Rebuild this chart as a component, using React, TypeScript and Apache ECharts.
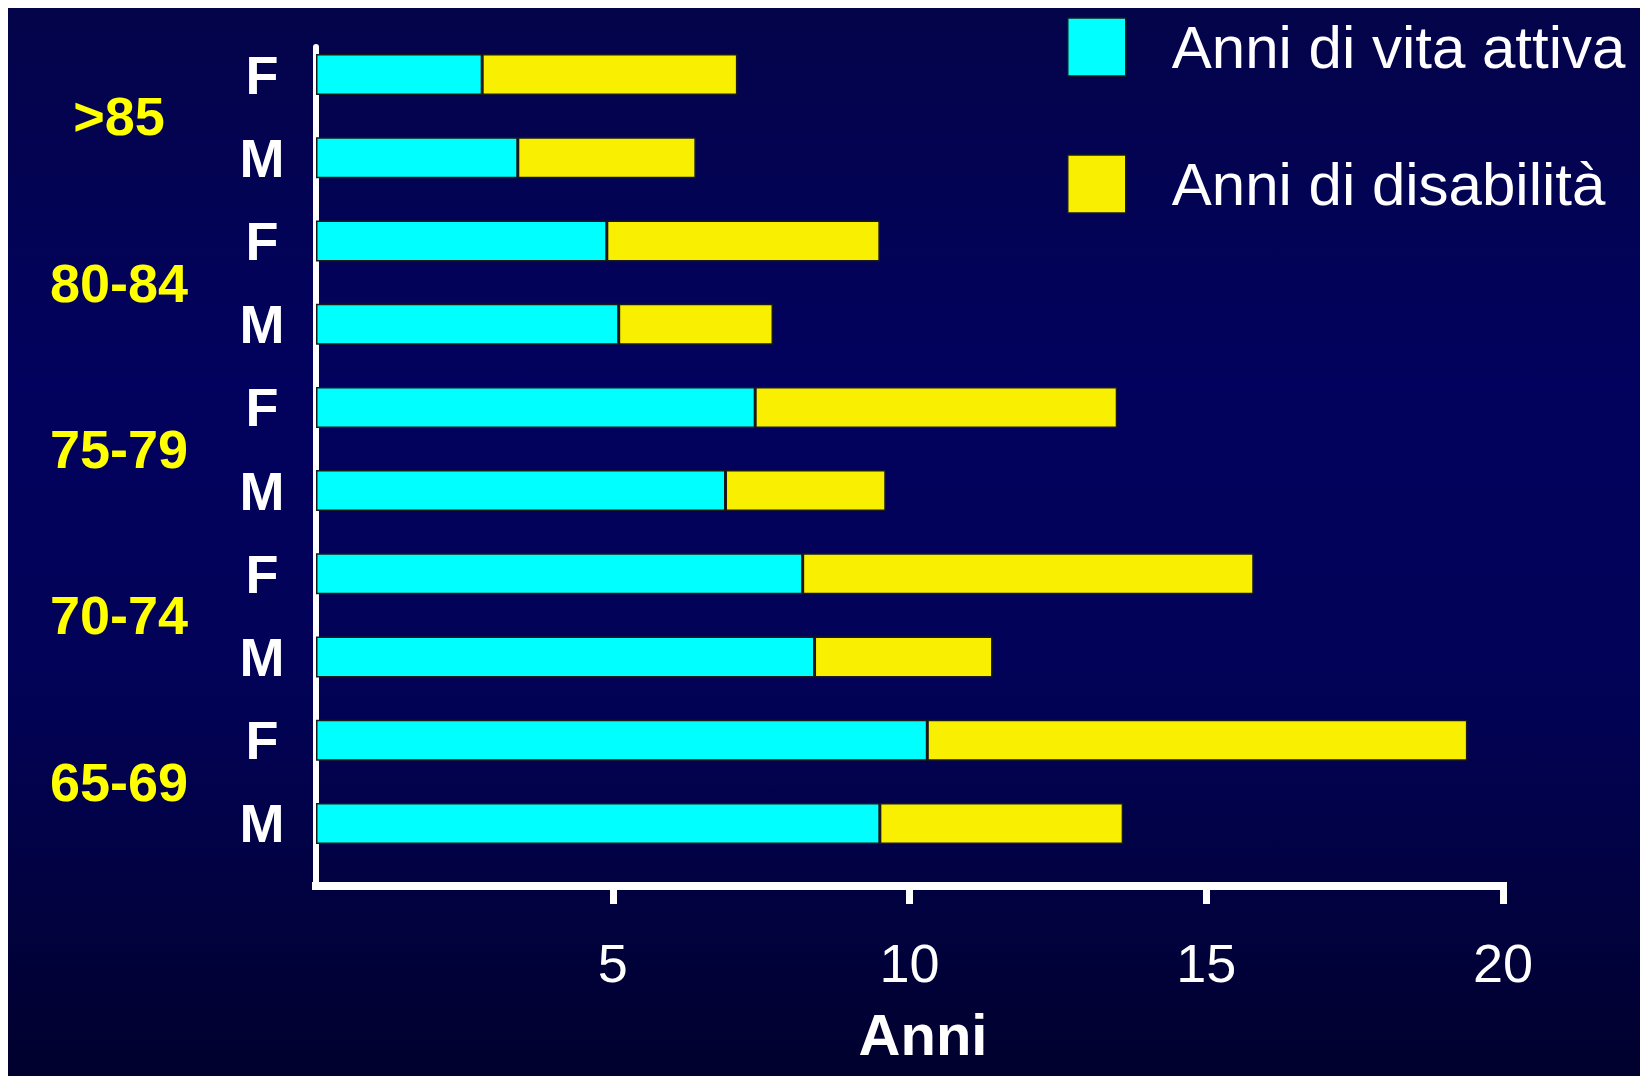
import React, { useEffect, useRef } from "react";
import * as echarts from "echarts";

// Rows top-to-bottom: age group + sex
const rowKeys = [
  ">85 F", ">85 M",
  "80-84 F", "80-84 M",
  "75-79 F", "75-79 M",
  "70-74 F", "70-74 M",
  "65-69 F", "65-69 M",
];
const ageGroups = [">85", "80-84", "75-79", "70-74", "65-69"];

// Years of active life and years with disability (stacked)
const activeYears = [2.8, 3.4, 4.9, 5.1, 7.4, 6.9, 8.2, 8.4, 10.3, 9.5];
const disabilityYears = [4.3, 3.0, 4.6, 2.6, 6.1, 2.7, 7.6, 3.0, 9.1, 4.1];

const xTicks = [5, 10, 15, 20];

const seriesNames = ["Anni di vita attiva", "Anni di disabilità"];

const FONT = '"Liberation Sans", Arial, Helvetica, sans-serif';
const CYAN = "#00FFFF";
const YELLOW = "#F8F000";
const EDGE = "#1a1a1a";

export default function App() {
  const ref = useRef<HTMLDivElement>(null);

  useEffect(() => {
    if (!ref.current) return;
    const chart = echarts.init(ref.current, null, { renderer: "svg" });

    chart.setOption({
      animation: false,
      backgroundColor: "transparent",
      grid: [
        // bars
        { left: 308, top: 25, width: 1187, height: 832 },
        // frame with the visible axes
        { left: 308, top: 39, width: 1187, height: 839 },
      ],
      xAxis: [
        { gridIndex: 0, type: "value", min: 0, max: 20, show: false },
        {
          gridIndex: 1,
          type: "value",
          min: 0,
          max: 20,
          interval: 5,
          axisLine: {
            show: true,
            onZero: false,
            lineStyle: { color: "#ffffff", width: 8, cap: "square" },
          },
          axisTick: {
            show: true,
            length: 18,
            customValues: xTicks,
            lineStyle: { color: "#ffffff", width: 7 },
          },
          axisLabel: {
            customValues: xTicks,
            color: "#ffffff",
            fontSize: 54,
            fontFamily: FONT,
            margin: 50,
          },
          splitLine: { show: false },
          name: "Anni",
          nameLocation: "middle",
          nameGap: 119,
          nameTextStyle: {
            color: "#ffffff",
            fontSize: 58,
            fontWeight: "bold",
            fontFamily: FONT,
            padding: [0, 0, 0, 27],
          },
        },
      ],
      yAxis: [
        {
          gridIndex: 0,
          type: "category",
          data: rowKeys,
          inverse: true,
          axisLine: { show: false },
          axisTick: { show: false },
          splitLine: { show: false },
          axisLabel: {
            interval: 0,
            formatter: (v: string) => v.split(" ")[1],
            color: "#ffffff",
            fontSize: 54,
            fontWeight: "bold",
            fontFamily: FONT,
            align: "center",
            margin: 54,
          },
        },
        {
          gridIndex: 0,
          type: "category",
          data: ageGroups,
          inverse: true,
          position: "left",
          axisLine: { show: false },
          axisTick: { show: false },
          splitLine: { show: false },
          axisLabel: {
            interval: 0,
            color: "#FFFF00",
            fontSize: 54,
            fontWeight: "bold",
            fontFamily: FONT,
            align: "center",
            margin: 197,
          },
        },
        {
          gridIndex: 1,
          type: "value",
          min: 0,
          max: 1,
          axisLine: { show: true, lineStyle: { color: "#ffffff", width: 6 } },
          axisTick: { show: false },
          axisLabel: { show: false },
          splitLine: { show: false },
        },
      ],
      legend: {
        orient: "vertical",
        left: 1059,
        top: 9,
        padding: 0,
        itemWidth: 58,
        itemHeight: 58,
        itemGap: 77,
        icon: "rect",
        selectedMode: false,
        data: seriesNames,
        itemStyle: { borderColor: EDGE, borderWidth: 1.5 },
        textStyle: {
          color: "#ffffff",
          fontSize: 60,
          fontFamily: FONT,
          lineHeight: 58,
          padding: [0, 0, 0, 41],
        },
      },
      series: [
        {
          name: seriesNames[0],
          type: "bar",
          stack: "anni",
          xAxisIndex: 0,
          yAxisIndex: 0,
          barWidth: 41,
          data: activeYears,
          itemStyle: { color: CYAN, borderColor: EDGE, borderWidth: 1.5 },
        },
        {
          name: seriesNames[1],
          type: "bar",
          stack: "anni",
          xAxisIndex: 0,
          yAxisIndex: 0,
          barWidth: 41,
          data: disabilityYears,
          itemStyle: { color: YELLOW, borderColor: EDGE, borderWidth: 1.5 },
        },
      ],
    });

    return () => chart.dispose();
  }, []);

  return (
    <div
      ref={ref}
      style={{
        position: "fixed",
        left: 8,
        top: 8,
        width: 1632,
        height: 1068,
        background:
          "linear-gradient(to bottom, #04044A 0%, #02025E 35%, #020258 62%, #01012E 100%)",
      }}
    />
  );
}
